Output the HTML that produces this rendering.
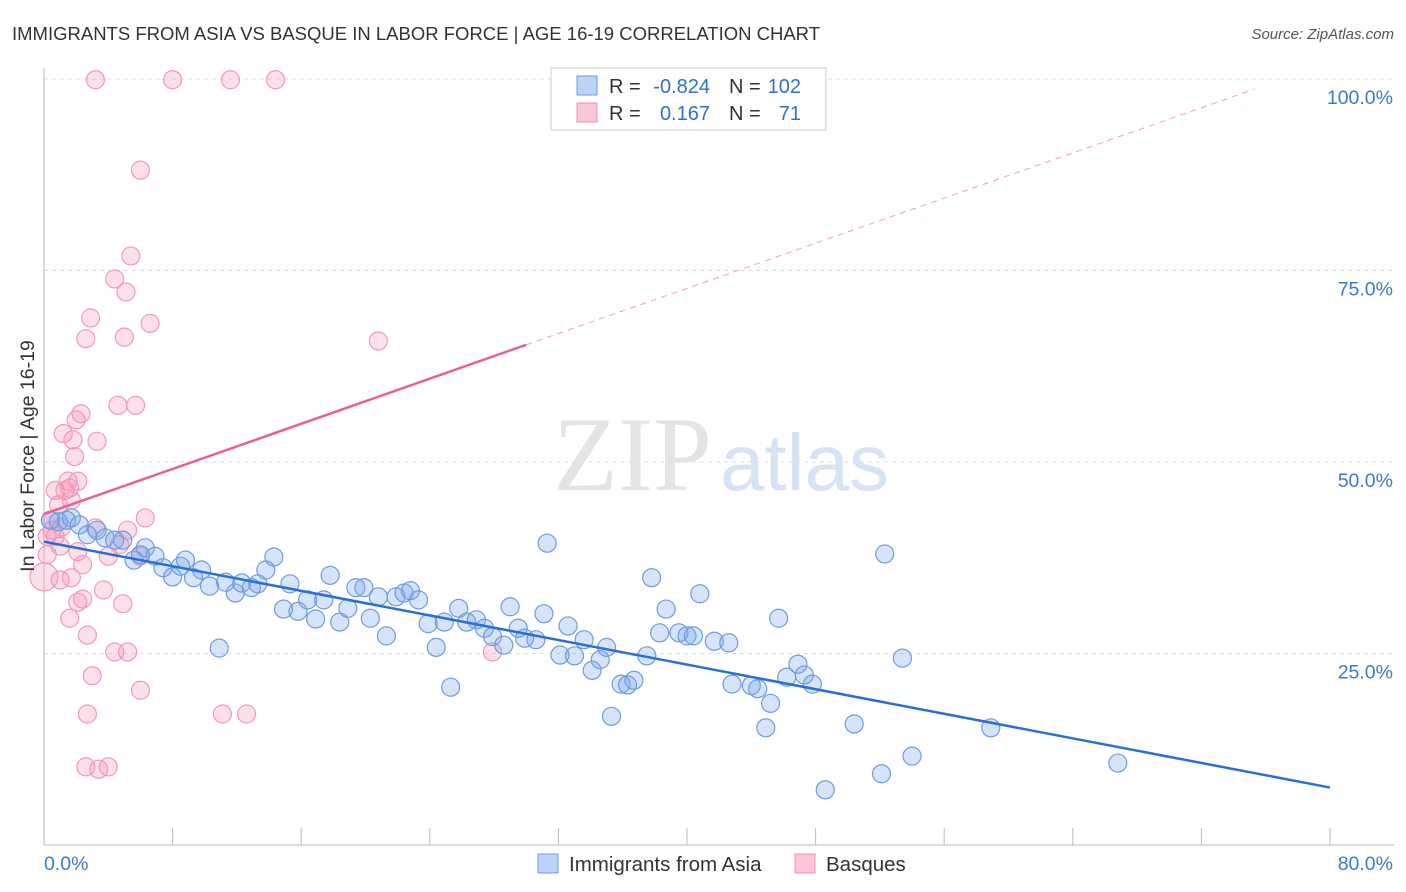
<!DOCTYPE html>
<html><head><meta charset="utf-8"><style>
body{margin:0;background:#fff;font-family:"Liberation Sans",sans-serif}
svg{display:block}
</style></head><body>
<svg id="c" width="1406" height="892">
<text x="12" y="40" font-size="18.5" fill="#333">IMMIGRANTS FROM ASIA VS BASQUE IN LABOR FORCE | AGE 16-19 CORRELATION CHART</text>
<text x="1394" y="39" font-size="15" fill="#555" font-style="italic" text-anchor="end">Source: ZipAtlas.com</text>
<text x="712" y="490" font-size="106" fill="#e4e4e4" font-family="Liberation Serif,serif" text-anchor="end">ZIP</text>
<text x="720" y="490" font-size="80" fill="#d6e3f5">atlas</text>
<g id="grid"></g><g id="axes"></g><g id="pts"></g><g id="trend"></g>
<text transform="translate(34,456) rotate(-90)" font-size="19.5" fill="#333" text-anchor="middle">In Labor Force | Age 16-19</text>
<g>
<rect x="551" y="68" width="275" height="62" fill="#fff" stroke="#ccc"/>
<rect x="577" y="76" width="20" height="19" fill="#bcd3f5" stroke="#6f9be0"/>
<rect x="577" y="103" width="20" height="19" fill="#f9c7d6" stroke="#f08cb0"/>
<text x="609" y="93" font-size="20" fill="#333">R =</text>
<text x="710" y="93" font-size="20" fill="#2f6fd6" text-anchor="end">-0.824</text>
<text x="729" y="93" font-size="20" fill="#333">N =</text>
<text x="801" y="93" font-size="20" fill="#2f6fd6" text-anchor="end">102</text>
<text x="609" y="120" font-size="20" fill="#333">R =</text>
<text x="710" y="120" font-size="20" fill="#2f6fd6" text-anchor="end">0.167</text>
<text x="729" y="120" font-size="20" fill="#333">N =</text>
<text x="801" y="120" font-size="20" fill="#2f6fd6" text-anchor="end">71</text>
</g>
<g>
<rect x="538" y="854" width="20" height="19" fill="#bcd3f5" stroke="#6f9be0"/>
<text x="569" y="871" font-size="20.5" fill="#333">Immigrants from Asia</text>
<rect x="795" y="854" width="20" height="19" fill="#f9c7d6" stroke="#f08cb0"/>
<text x="826" y="871" font-size="20.5" fill="#333">Basques</text>
</g>
</svg>
<script>
const xTicks=[0,8,16,24,32,40,48,56,64,72,80];
const yTicks=[25,50,75,100];
const blueX=[0.4,0.9,1.4,1.7,2.2,2.7,3.3,3.8,4.4,4.9,5.6,6.0,6.3,6.9,7.4,8.0,8.5,8.8,9.3,9.8,10.3,10.9,11.3,11.9,12.3,12.9,13.3,13.8,14.3,14.9,15.3,15.8,16.4,16.9,17.4,17.8,18.4,18.9,19.4,19.9,20.3,20.8,21.3,21.9,22.4,22.8,23.3,23.9,24.4,24.9,25.3,25.8,26.3,26.9,27.4,27.9,28.6,29.0,29.5,29.9,30.6,31.1,31.3,32.1,32.6,33.0,33.6,34.1,34.6,35.0,35.3,35.9,36.3,36.7,37.5,37.8,38.3,38.7,39.5,40.0,40.4,40.8,41.7,42.6,42.8,44.0,44.4,44.9,45.2,45.7,46.2,46.9,47.3,47.8,48.6,50.4,52.1,52.3,53.4,54.0,58.9,66.8];
const blueY=[42.4,42.2,42.4,42.7,41.8,40.5,41.1,40.1,39.8,39.8,37.2,37.9,38.8,37.7,36.2,35.0,36.4,37.2,34.9,35.9,33.8,25.7,34.3,32.9,34.2,33.6,34.1,35.9,37.6,30.8,34.1,30.5,32.0,29.5,32.0,35.2,29.1,30.9,33.6,33.6,29.6,32.4,27.3,32.4,32.9,33.2,32.0,28.9,25.8,29.1,20.6,30.9,29.1,29.4,28.3,27.2,26.1,31.1,28.3,27.0,26.8,30.2,39.4,24.8,28.6,24.7,26.8,22.8,24.2,25.8,16.8,21.0,20.9,21.5,24.7,34.9,27.7,30.8,27.7,27.3,27.3,32.8,26.6,26.4,21.0,20.8,20.4,15.3,18.5,29.6,21.9,23.6,22.2,21.0,7.2,15.8,9.3,38.0,24.4,11.6,15.3,10.7];
const pinkX=[3.2,8.0,11.6,14.4,6.0,5.4,4.4,5.1,2.9,6.6,2.6,5.0,20.8,4.6,5.7,2.3,2.0,1.2,3.3,1.8,1.9,1.5,2.1,1.3,0.7,1.6,1.7,0.9,6.3,0.4,0.5,1.1,0.2,0.7,3.2,5.2,4.7,1.0,0.2,2.1,4.0,6.0,2.4,0,1.0,1.7,3.7,2.4,2.1,4.9,1.6,2.7,4.4,5.2,27.9,3.0,6.0,2.7,11.1,12.6,2.6,3.4,4.0];
const pinkY=[99.9,99.9,99.9,99.9,88.1,76.9,73.9,72.2,68.8,68.1,66.1,66.3,65.8,57.4,57.4,56.3,55.5,53.7,52.7,52.9,50.7,47.5,47.5,46.3,46.3,46.6,45.0,44.4,42.7,42.4,41.1,41.5,40.3,40.3,41.4,41.1,39.2,39.0,37.9,38.3,37.7,37.7,36.6,35.0,34.6,34.9,33.3,32.1,31.7,31.5,29.6,27.4,25.2,25.2,25.2,22.1,20.2,17.1,17.1,17.1,10.2,9.9,10.2];
const blueTrend=[39.6,7.5];
const pinkTrend=[43.2,65.3,30];
const X=v=>44+v/80*1286, Y=v=>845-v/100*766;
const NS="http://www.w3.org/2000/svg";
function mk(t,a,p){const e=document.createElementNS(NS,t);for(const k in a)e.setAttribute(k,a[k]);p.appendChild(e);return e;}
const grid=document.getElementById('grid'),axes=document.getElementById('axes'),pts=document.getElementById('pts'),tr=document.getElementById('trend');
yTicks.forEach(t=>{
 const l=mk('line',{x1:44,x2:1394,y1:Y(t),y2:Y(t),stroke:'#ddd','stroke-dasharray':'4,4'},grid);
 
 
 const tx=mk('text',{x:1393,y:Y(t)+25,'font-size':19.5,fill:'#3d78d6','text-anchor':'end'},axes);
 tx.textContent=t.toFixed(1)+'%';
 
 
});
const xl=mk('line',{x1:44,x2:1394,y1:845,y2:845,stroke:'#bbb'},axes);


const yl=mk('line',{x1:44,x2:44,y1:68,y2:845,stroke:'#bbb'},axes);


xTicks.forEach(t=>{
 const l=mk('line',{x1:X(t),x2:X(t),y1:828,y2:845,stroke:'#bbb'},axes);
 
 
});
[[0,'start'],[80,'end']].forEach(([t,a])=>{
 const tx=mk('text',{x:t?1393:44,y:870,'font-size':19.5,fill:'#3d78d6','text-anchor':a},axes);
 tx.textContent=t.toFixed(1)+'%';
 
 
});
pinkX.forEach((x,i)=>{
 const c=mk('circle',{cx:X(x),cy:Y(pinkY[i]),r:i==43?14:9,fill:'rgba(244,150,180,0.3)',stroke:'#f09ab8','stroke-width':1.2},pts);
 
 
});
blueX.forEach((x,i)=>{
 const c=mk('circle',{cx:X(x),cy:Y(blueY[i]),r:9,fill:'rgba(120,165,235,0.3)',stroke:'#6f9be0','stroke-width':1.2},pts);
 
 
});
const bt=mk('line',{x1:X(0),y1:Y(blueTrend[0]),x2:X(80),y2:Y(blueTrend[1]),stroke:'#2a6fd8','stroke-width':2.5},tr);


const ps=(pinkTrend[1]-pinkTrend[0])/pinkTrend[2];
const pt=mk('line',{x1:X(0),y1:Y(pinkTrend[0]),x2:X(pinkTrend[2]),y2:Y(pinkTrend[1]),stroke:'#e8618f','stroke-width':2.5},tr);


const xe=75.3;
const pd=mk('line',{x1:X(pinkTrend[2]),y1:Y(pinkTrend[1]),x2:X(xe),y2:Y(pinkTrend[0]+ps*xe),stroke:'#f0a0ba','stroke-width':1,'stroke-dasharray':'6,5'},tr);


</script>
</body></html>
